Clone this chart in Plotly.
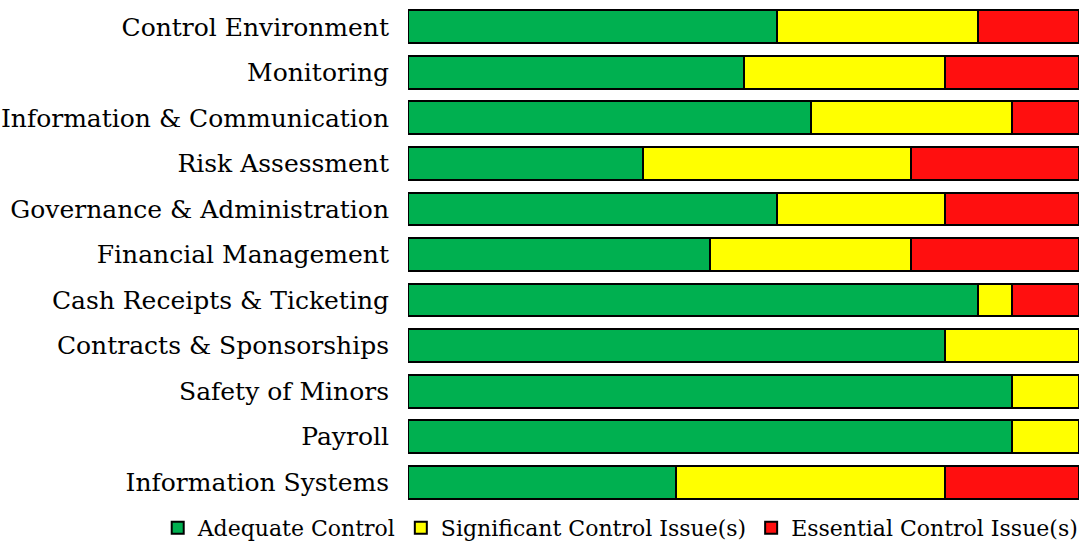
import plotly.graph_objects as go

categories = ["Control Environment", "Monitoring", "Information & Communication",
              "Risk Assessment", "Governance & Administration", "Financial Management",
              "Cash Receipts & Ticketing", "Contracts & Sponsorships", "Safety of Minors",
              "Payroll", "Information Systems"]
adequate = [11, 10, 12, 7, 11, 9, 17, 16, 18, 18, 8]
significant = [6, 6, 6, 8, 5, 6, 1, 4, 2, 2, 8]
essential = [3, 4, 2, 5, 4, 5, 2, 0, 0, 0, 4]

fig = go.Figure()
fig.add_trace(go.Bar(y=categories, x=adequate, orientation="h", name="Adequate Control",
                     marker=dict(color="#00B050", line=dict(color="black", width=2))))
fig.add_trace(go.Bar(y=categories, x=significant, orientation="h", name="Significant Control Issue(s)",
                     marker=dict(color="#FFFF00", line=dict(color="black", width=2))))
fig.add_trace(go.Bar(y=categories, x=essential, orientation="h", name="Essential Control Issue(s)",
                     marker=dict(color="#FF0F0F", line=dict(color="black", width=2))))

fig.update_layout(
    barmode="stack", bargap=0.28,
    width=1079, height=547,
    margin=dict(l=408, r=0, t=4, b=42, autoexpand=False),
    plot_bgcolor="white", paper_bgcolor="white",
    font=dict(family="DejaVu Serif", size=22, color="black"),
    legend=dict(orientation="h", x=-0.373, xanchor="left", y=-0.004, yanchor="top",
                font=dict(size=22), traceorder="normal", itemwidth=30),
    showlegend=True,
)
fig.update_xaxes(range=[0, 20], visible=False)
fig.update_yaxes(autorange="reversed", showgrid=False, ticks="", automargin=False,
                 ticklabelstandoff=18, tickfont=dict(size=25))

fig.write_html("out.html", config={"displayModeBar": False},
               post_script="document.body.style.margin='0';document.body.style.overflow='hidden';")
